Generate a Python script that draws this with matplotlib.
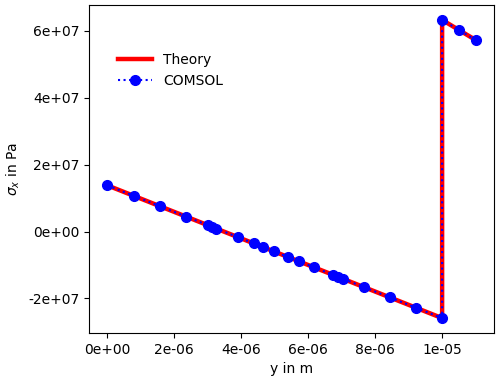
import matplotlib
matplotlib.use("Agg")
import matplotlib.pyplot as plt
from matplotlib.ticker import FuncFormatter

theory_y = [0.0, 1.0e-5, 1.0e-5, 1.1e-5]
theory_s = [1.38e7, -2.59e7, 6.33e7, 5.73e7]

comsol_y = [0.0, 0.79e-6, 1.57e-6, 2.36e-6, 3.0e-6, 3.13e-6, 3.25e-6, 3.89e-6,
            4.37e-6, 4.64e-6, 4.98e-6, 5.41e-6, 5.72e-6, 6.17e-6, 6.74e-6,
            6.9e-6, 7.04e-6, 7.66e-6, 8.44e-6, 9.22e-6, 1.0e-5,
            1.0e-5, 1.05e-5, 1.1e-5]
comsol_s = [1.38e7, 1.066e7, 0.757e7, 0.443e7, 0.189e7, 0.137e7, 0.09e7, -0.164e7,
            -0.355e7, -0.462e7, -0.597e7, -0.768e7, -0.891e7, -1.069e7, -1.296e7,
            -1.359e7, -1.415e7, -1.661e7, -1.971e7, -2.28e7, -2.59e7,
            6.33e7, 6.03e7, 5.73e7]

fig = plt.figure(figsize=(5, 3.85), dpi=100)
ax = fig.add_axes([0.178, 0.135, 0.81, 0.852])
ax.plot(theory_y, theory_s, color='red', lw=3.2, label='Theory')
ax.plot(comsol_y, comsol_s, color='blue', ls=':', lw=1.5, marker='o', ms=7, label='COMSOL')
fmt = FuncFormatter(lambda v, p: '%.0e' % v)
ax.xaxis.set_major_formatter(fmt)
ax.yaxis.set_major_formatter(fmt)
ax.set_xticks([0, 2e-6, 4e-6, 6e-6, 8e-6, 1e-5])
ax.set_yticks([-2e7, 0, 2e7, 4e7, 6e7])
ax.set_xlabel('y in m')
ax.set_ylabel(r'$\sigma_x$ in Pa')
ax.legend(loc='upper left', bbox_to_anchor=(0.04, 0.893), frameon=False,
          handlelength=2.45)
fig.savefig('out.png', dpi=100)
